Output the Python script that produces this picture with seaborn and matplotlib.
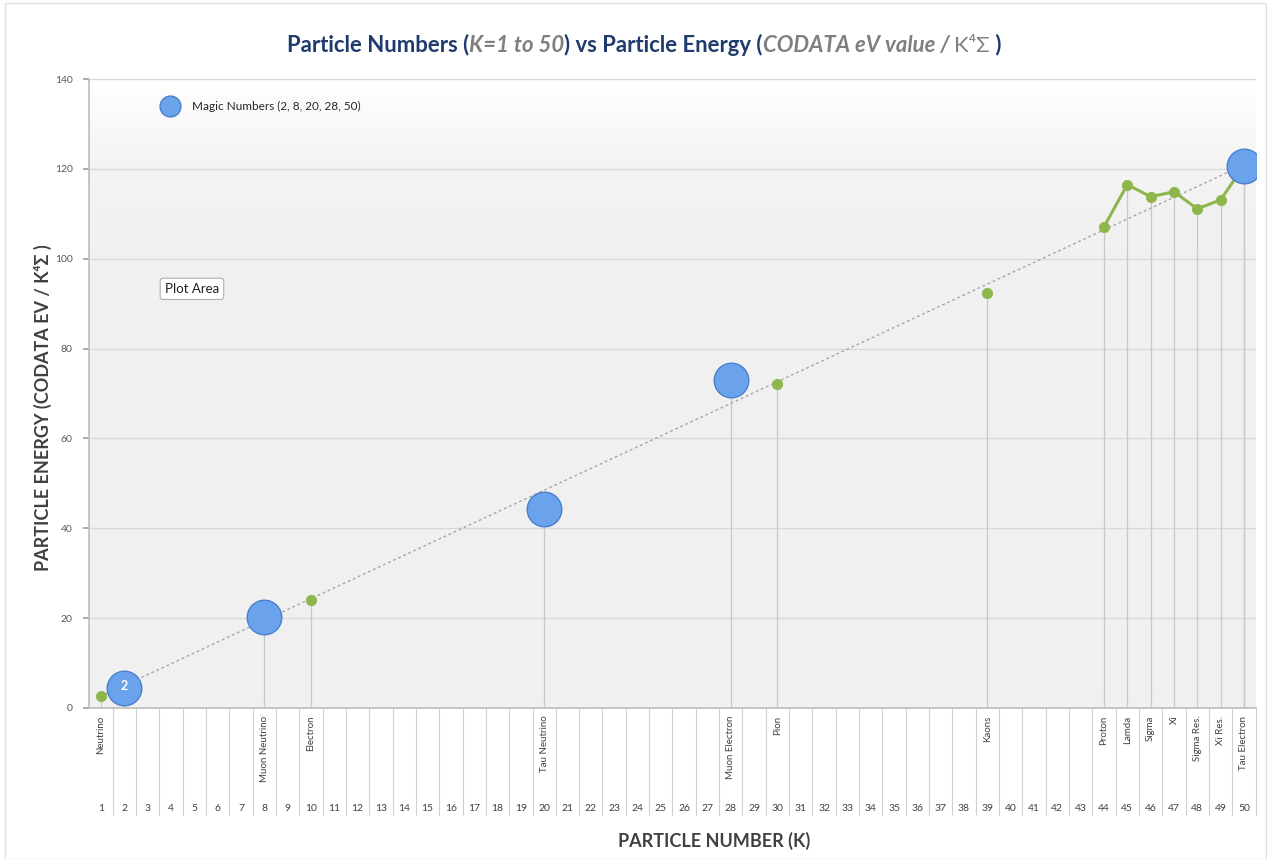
import numpy as np
import pandas as pd
import matplotlib
matplotlib.use('Agg')
import matplotlib.pyplot as plt
import matplotlib.transforms as mtransforms
from matplotlib.lines import Line2D
import seaborn as sns

# data
magic_k = [2, 8, 20, 28, 50]
magic_e = [4.5, 20.3, 44.3, 73.0, 120.7]

other_k = [1, 10, 30, 39, 44, 45, 46, 47, 48, 49, 50]
other_e = [2.7, 24.0, 72.2, 92.4, 107.1, 116.5, 113.8, 114.9, 111.1, 113.1, 120.7]

name_k = [1, 8, 10, 20, 28, 30, 39, 44, 45, 46, 47, 48, 49, 50]
names = ['Neutrino', 'Muon Neutrino', 'Electron', 'Tau Neutrino', 'Muon Electron',
         'Pion', 'Kaons', 'Proton', 'Lamda', 'Sigma', 'Xi', 'Sigma Res.',
         'Xi Res.', 'Tau Electron']

k_all = list(range(1, 51))
y_ticks = [0, 20, 40, 60, 80, 100, 120, 140]

sns.set_theme(style='white')
plt.rcParams['font.family'] = ['Lato', 'DejaVu Sans']

green = '#8DB64C'
blue = '#6AA3EC'
navy = '#1F3B6E'
grey_t = '#7F7F7F'

fig = plt.figure(figsize=(12.67, 8.59), dpi=100)
ax = fig.add_axes([0.0705, 0.1758, 0.9205, 0.7322])
ax.set_xlim(0.5, 50.5)

# plot area gradient: white at the top, light grey lower down
grad = np.concatenate([np.linspace(0, 1, 60), np.linspace(1, 1.15, 196)]).reshape(-1, 1)
cmap = matplotlib.colors.LinearSegmentedColormap.from_list('bg', ['#FFFFFF', '#F4F4F4', '#F0F0F0'])
ax.imshow(grad, cmap=cmap, aspect='auto', extent=[0.5, 50.5, 0, 140], origin='upper',
          vmin=0, vmax=1.15, zorder=0)
ax.set_ylim(0, 140)

for yv in y_ticks[1:]:
    ax.axhline(yv, color='#D9D9D9', lw=1, zorder=1)

all_df = pd.DataFrame({'K': magic_k + other_k, 'E': magic_e + other_e})
sns.regplot(data=all_df, x='K', y='E', scatter=False, ci=None, ax=ax,
            line_kws=dict(color='#A6A6A6', lw=1, ls=(0, (2, 2)), zorder=2))

# drop lines
ax.vlines(all_df['K'], 0, all_df['E'], color='#C8C8C8', lw=0.9, zorder=1.5)

# green series, broken where K is not consecutive
series = np.full(len(k_all), np.nan)
for k, e in zip(other_k, other_e):
    series[k - 1] = e
ax.plot(k_all, series, color=green, lw=2.2, zorder=3)
sns.scatterplot(x=other_k, y=other_e, color=green, s=55, edgecolor=green, ax=ax, zorder=4)

sns.scatterplot(x=magic_k, y=magic_e, color=blue, s=620, edgecolor='#4A7FCC',
                linewidth=1.0, ax=ax, zorder=5)
ax.text(magic_k[0], magic_e[0] + 0.3, '2', color='white', fontsize=9, fontweight='bold',
        ha='center', va='center', zorder=6)

ax.set_xticks([])
ax.set_yticks(y_ticks)
ax.tick_params(axis='y', labelsize=7.5, labelcolor='#595959', length=4, color='#A0A0A0',
               left=True, direction='out', pad=8)
for s in ['top', 'right']:
    ax.spines[s].set_visible(False)
ax.spines['left'].set_color('#BFBFBF')
ax.spines['bottom'].set_color('#BFBFBF')
ax.set_xlabel('')
ax.set_ylabel('')

# category table under the axis
trans = mtransforms.blended_transform_factory(ax.transData, ax.transAxes)
for k in k_all:
    ax.plot([k + 0.5, k + 0.5], [0, -0.170], transform=trans, color='#D0D0D0',
            lw=0.8, clip_on=False)
    ax.text(k, -0.160, str(k), transform=trans, ha='center', va='center',
            fontsize=7.5, color='#404040')
for k, n in zip(name_k, names):
    ax.text(k, -0.012, n, transform=trans, rotation=90, ha='center', va='top',
            fontsize=7, color='#404040')

# legend
handle = Line2D([], [], marker='o', ls='', markersize=15, markerfacecolor=blue,
                markeredgecolor='#4A7FCC')
ax.legend([handle], ['Magic Numbers (2, 8, 20, 28, 50)'], loc='upper left',
          bbox_to_anchor=(0.05, 0.982), frameon=False, fontsize=8.5, handletextpad=0.9)

ax.text(4.9, 93.3, 'Plot Area', fontsize=9.5, ha='center', va='center', color='#202020',
        bbox=dict(boxstyle='round,pad=0.35,rounding_size=0.2', fc='white', ec='#B0B0B0',
                  lw=0.8), zorder=7)

# axis titles
fig.text(0.034, 0.525, 'PARTICLE ENERGY (CODATA EV / K⁴Σ )', rotation=90, ha='center',
         va='center', fontsize=13, fontweight='bold', color='#404040')
fig.text(0.5635, 0.011, 'PARTICLE NUMBER (K)', ha='center', va='bottom', fontsize=13,
         fontweight='bold', color='#404040')

# multi-coloured title
parts = [('Particle Numbers (', navy, 'normal', 'bold'),
         ('K=1 to 50', grey_t, 'italic', 'bold'),
         (') vs Particle Energy (', navy, 'normal', 'bold'),
         ('CODATA eV value / ', grey_t, 'italic', 'bold'),
         ('K⁴Σ', grey_t, 'normal', 'normal'),
         (' )', navy, 'normal', 'bold')]
prev = fig.text(0.2265, 0.935, parts[0][0], color=parts[0][1], style=parts[0][2],
                fontweight=parts[0][3], fontsize=15.9, ha='left', va='bottom')
for txt, col, st, wt in parts[1:]:
    prev = ax.annotate(txt, xy=(1, 0), xycoords=prev, ha='left', va='bottom',
                       color=col, style=st, fontweight=wt, fontsize=15.9,
                       annotation_clip=False)

fig.patches.append(plt.Rectangle((0.004, 0.0), 0.995, 0.996, transform=fig.transFigure,
                                 fill=False, ec='#E0E0E0', lw=1))

fig.savefig('out.png', dpi=100)
